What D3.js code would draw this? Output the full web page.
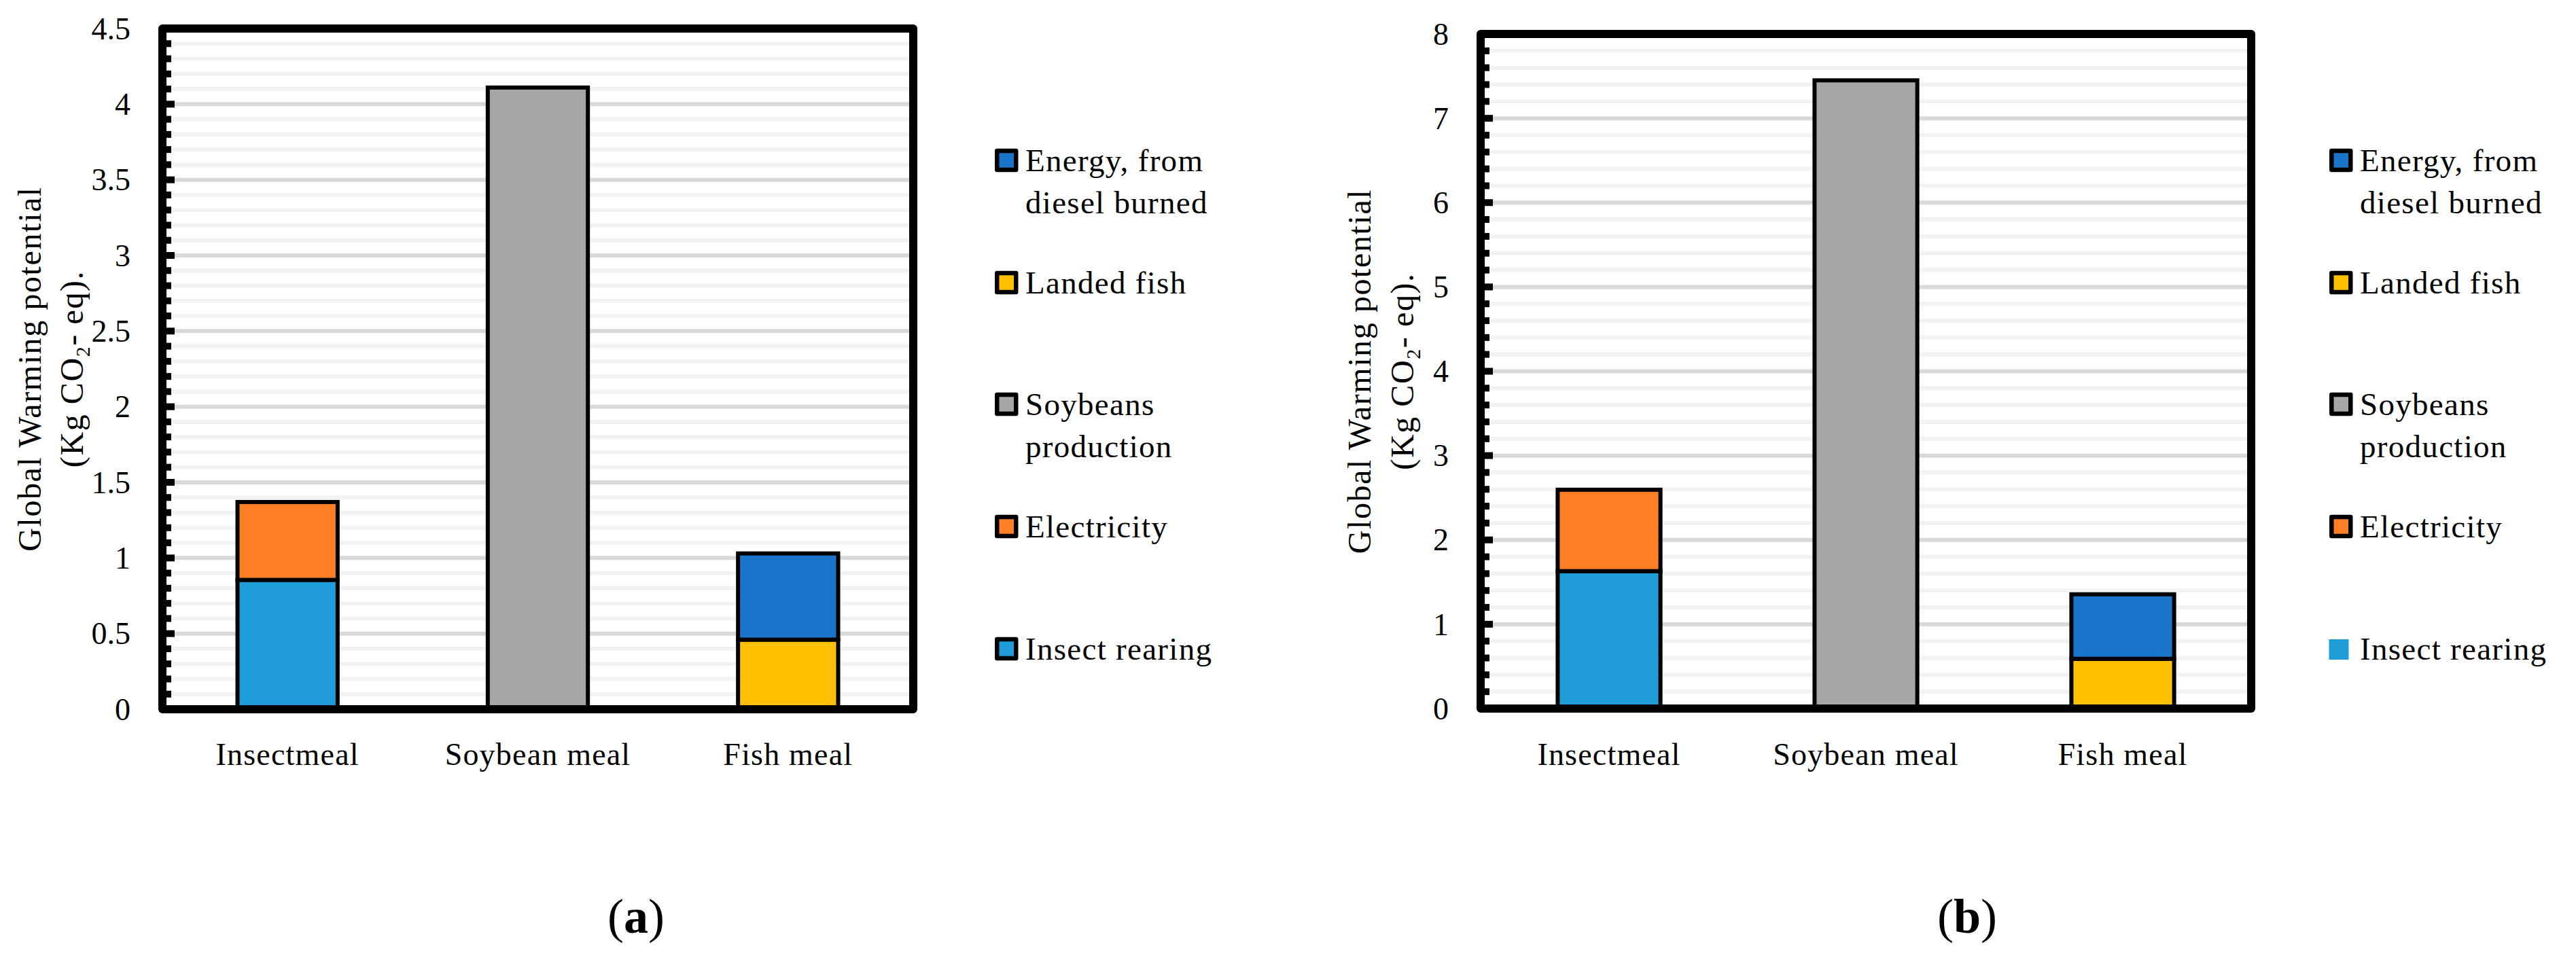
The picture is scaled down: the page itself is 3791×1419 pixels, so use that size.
<!DOCTYPE html>
<html>
<head>
<meta charset="utf-8">
<script src="https://cdn.jsdelivr.net/npm/d3@7"></script>
<style>
  html, body { margin: 0; padding: 0; background: #fff; }
  svg { display: block; }
  text { font-family: "Liberation Serif", "Times New Roman", serif; fill: #000; }
</style>
</head>
<body>
<script>
// ---------- data ----------
const categories = ["Insectmeal", "Soybean meal", "Fish meal"];
const seriesNames = ["Insect rearing", "Electricity", "Soybeans production", "Landed fish", "Energy, from diesel burned"];
const seriesColors = ["#1E9DD8", "#FF7F27", "#A6A6A6", "#FFC000", "#1A74C9"];

// panel (a)
const insectA      = [0.855, 0, 0];
const electricityA = [0.515, 0, 0];
const soyA         = [0, 4.11, 0];
const landedA      = [0, 0, 0.46];
const energyA      = [0, 0, 0.57];
const tickLabelsA  = ["0", "0.5", "1", "1.5", "2", "2.5", "3", "3.5", "4", "4.5"];

// panel (b)
const insectB      = [1.63, 0, 0];
const electricityB = [0.965, 0, 0];
const soyB         = [0, 7.45, 0];
const landedB      = [0, 0, 0.59];
const energyB      = [0, 0, 0.765];
const tickLabelsB  = ["0", "1", "2", "3", "4", "5", "6", "7", "8"];

// legend (reverse order, as in the original)
const legendOrder = [4, 3, 2, 1, 0];
const legendLines = [["Energy, from", "diesel burned"], ["Landed fish"], ["Soybeans", "production"], ["Electricity"], ["Insect rearing"]];
const panelLetters = ["a", "b"];
const yTitleLine1 = "Global Warming potential";

// ---------- drawing ----------
const W = 3791, H = 1419;
const svg = d3.select("body").append("svg").attr("width", W).attr("height", H);

function drawPanel(cfg) {
  const g = svg.append("g");
  const rows = categories.map((c, i) => {
    const r = { cat: c };
    seriesNames.forEach((s, k) => r[s] = cfg.series[k][i]);
    return r;
  });
  const stacked = d3.stack().keys(seriesNames)(rows);

  const x = d3.scaleBand().domain(categories).range([cfg.x0, cfg.x1]).paddingInner(0.6).paddingOuter(0.3);
  const y = d3.scaleLinear().domain([0, cfg.yMax]).range([cfg.yBot, cfg.yTop]);

  const majors = cfg.tickLabels.map(t => +t);
  const nMinor = Math.round(cfg.yMax / cfg.minor);
  const minors = d3.range(0, nMinor + 1).map(i => +(i * cfg.minor).toFixed(4));
  const isMajor = v => majors.some(m => Math.abs(m - v) < 1e-6);

  // gridlines
  g.append("g").selectAll("line").data(minors.filter(v => !isMajor(v) && v > 0 && v < cfg.yMax))
    .join("line")
    .attr("x1", cfg.x0 + 6).attr("x2", cfg.x1 - 6)
    .attr("y1", d => y(d)).attr("y2", d => y(d))
    .attr("stroke", "#F2F2F2").attr("stroke-width", 6);
  g.append("g").selectAll("line").data(majors.filter(v => v > 0 && v < cfg.yMax))
    .join("line")
    .attr("x1", cfg.x0 + 6).attr("x2", cfg.x1 - 6)
    .attr("y1", d => y(d)).attr("y2", d => y(d))
    .attr("stroke", "#D9D9D9").attr("stroke-width", 6);

  // bars
  g.append("g").selectAll("g").data(stacked).join("g")
    .attr("fill", (d, i) => seriesColors[i])
    .selectAll("rect").data(d => d.filter(p => p[1] - p[0] > 0))
    .join("rect")
    .attr("x", d => x(d.data.cat))
    .attr("width", x.bandwidth())
    .attr("y", d => y(d[1]))
    .attr("height", d => y(d[0]) - y(d[1]))
    .attr("stroke", "#000").attr("stroke-width", 6);

  // frame
  g.append("rect")
    .attr("x", cfg.x0).attr("y", cfg.yTop)
    .attr("width", cfg.x1 - cfg.x0).attr("height", cfg.yBot - cfg.yTop)
    .attr("fill", "none").attr("stroke", "#000").attr("stroke-width", 12)
    .attr("stroke-linejoin", "round");

  // tick marks (inside, on the left axis)
  g.append("g").selectAll("rect").data(minors.filter(v => v > 0 && v < cfg.yMax))
    .join("rect")
    .attr("x", cfg.x0 + 5)
    .attr("width", d => isMajor(d) ? 13 : 8)
    .attr("y", d => y(d) - 5).attr("height", 10)
    .attr("fill", "#000");

  // tick labels
  g.append("g").selectAll("text").data(cfg.tickLabels)
    .join("text")
    .attr("x", cfg.x0 - 47)
    .attr("y", d => y(+d))
    .attr("dy", "0.34em")
    .attr("text-anchor", "end")
    .attr("font-size", 46)
    .text(d => d);

  // category labels
  g.append("g").selectAll("text").data(categories)
    .join("text")
    .attr("x", d => x(d) + x.bandwidth() / 2)
    .attr("y", 1126)
    .attr("text-anchor", "middle")
    .attr("font-size", 46)
    .attr("letter-spacing", 1.2)
    .text(d => d);

  // y axis title
  const cy = (cfg.yTop + cfg.yBot) / 2;
  g.append("text")
    .attr("transform", `translate(${cfg.titleX1},${cy}) rotate(-90)`)
    .attr("text-anchor", "middle")
    .attr("font-size", 48)
    .attr("letter-spacing", 1.6)
    .text(yTitleLine1);
  const t2 = g.append("text")
    .attr("transform", `translate(${cfg.titleX2},${cy}) rotate(-90)`)
    .attr("text-anchor", "middle")
    .attr("font-size", 48)
    .attr("letter-spacing", 1.6);
  t2.append("tspan").text("(Kg CO");
  t2.append("tspan").attr("font-size", 30).attr("dy", 10).text("2");
  t2.append("tspan").attr("dy", -10).text("- eq).");

  // legend
  const baselines = [252, 432, 611, 791, 971];
  const lg = g.append("g");
  legendOrder.forEach((si, j) => {
    const b = baselines[j];
    const noBorder = (!cfg.lastLegendBorder && j === legendOrder.length - 1);
    if (noBorder) {
      lg.append("rect")
        .attr("x", cfg.legendX - 0.5).attr("y", b - 30)
        .attr("width", 29).attr("height", 30)
        .attr("fill", seriesColors[si]);
    } else {
      lg.append("rect")
        .attr("x", cfg.legendX + 3.25).attr("y", b - 30)
        .attr("width", 28).attr("height", 28)
        .attr("fill", seriesColors[si])
        .attr("stroke", "#000").attr("stroke-width", 6.5)
        .attr("stroke-linejoin", "round");
    }
    legendLines[j].forEach((line, li) => {
      lg.append("text")
        .attr("x", cfg.legendTextX)
        .attr("y", b + li * 62)
        .attr("font-size", 47)
        .attr("letter-spacing", 1.3)
        .text(line);
    });
  });

  // panel letter
  const pl = g.append("text")
    .attr("x", cfg.panelX).attr("y", 1373)
    .attr("text-anchor", "middle")
    .attr("font-size", 72);
  pl.append("tspan").text("(");
  pl.append("tspan").attr("font-weight", "bold").text(cfg.letter);
  pl.append("tspan").text(")");
}

drawPanel({
  series: [insectA, electricityA, soyA, landedA, energyA],
  tickLabels: tickLabelsA, yMax: 4.5, minor: 0.1,
  x0: 239, x1: 1344, yTop: 42, yBot: 1044,
  titleX1: 60, titleX2: 122,
  legendX: 1464, legendTextX: 1509,
  lastLegendBorder: true,
  panelX: 936, letter: panelLetters[0]
});

drawPanel({
  series: [insectB, electricityB, soyB, landedB, energyB],
  tickLabels: tickLabelsB, yMax: 8, minor: 0.2,
  x0: 2179, x1: 3313, yTop: 50, yBot: 1043,
  titleX1: 2017, titleX2: 2080,
  legendX: 3428, legendTextX: 3473,
  lastLegendBorder: false,
  panelX: 2895, letter: panelLetters[1]
});
</script>
</body>
</html>
